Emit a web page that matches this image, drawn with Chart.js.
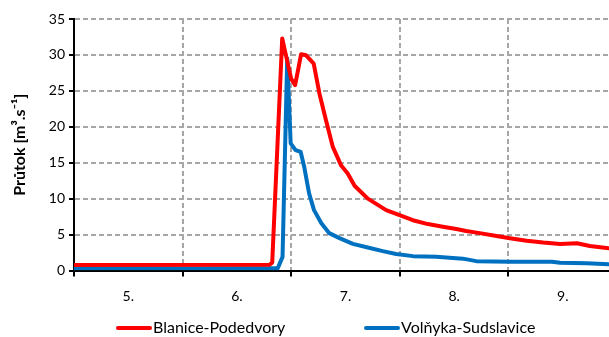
<!DOCTYPE html>
<html>
<head>
<meta charset="utf-8">
<script src="https://cdn.jsdelivr.net/npm/chart.js@4"></script>
<style>
  html, body { margin: 0; padding: 0; background: #fff; overflow: hidden; }
  canvas { display: block; }
</style>
</head>
<body>
<canvas id="graf" width="654" height="337"></canvas>
<script>
// data (den, prutok m3/s)
const blaniceDny = [5.0, 6.80, 6.825, 6.917, 6.999, 7.036, 7.091, 7.137, 7.207, 7.26, 7.32, 7.383, 7.46, 7.52, 7.583, 7.705, 7.874, 7.997, 8.12, 8.258, 8.396, 8.52, 8.61, 8.736, 8.89, 9.014, 9.167, 9.32, 9.476, 9.63, 9.75, 9.922, 10.1];
const blanicePrutok = [0.75, 0.8, 1.1, 32.3, 26.7, 25.8, 30.1, 29.95, 28.8, 24.6, 20.9, 17.2, 14.6, 13.5, 11.8, 10.0, 8.4, 7.7, 7.0, 6.46, 6.1, 5.77, 5.5, 5.2, 4.8, 4.5, 4.15, 3.9, 3.7, 3.8, 3.4, 3.1, 3.0];
const volnykaDny = [5.0, 6.875, 6.92, 6.963, 6.995, 7.04, 7.087, 7.12, 7.165, 7.21, 7.276, 7.35, 7.444, 7.568, 7.705, 7.843, 7.966, 8.12, 8.335, 8.58, 8.704, 9.014, 9.4, 9.476, 9.72, 9.922, 10.1];
const volnykaPrutok = [0.3, 0.3, 1.9, 29.5, 17.7, 16.75, 16.5, 14.4, 10.7, 8.4, 6.6, 5.2, 4.5, 3.7, 3.2, 2.7, 2.3, 2.0, 1.9, 1.65, 1.3, 1.22, 1.22, 1.08, 1.0, 0.86, 0.85];
const dnyPopisky = ['5.', '6.', '7.', '8.', '9.', '10.'];
const nazvy = ['Blanice-Podedvory', 'Volňyka-Sudslavice'];
const barvy = ['#ff0000', '#0070c0'];

Chart.defaults.font.family = 'Lato';
Chart.defaults.font.size = 14;
Chart.defaults.color = '#000';

const sedaMrizka = '#a6a6a6';

// legenda dole - vlastni, kvuli rozestupum
const legendaPlugin = {
  id: 'legendaDole',
  afterDraw(chart) {
    const c = chart.ctx;
    const pozice = [118, 366];
    c.save();
    c.font = '16px Lato';
    c.textBaseline = 'middle';
    chart.data.datasets.forEach((ds, i) => {
      const x = pozice[i];
      const y = 328;
      c.strokeStyle = ds.borderColor;
      c.lineWidth = 4;
      c.lineCap = 'round';
      c.beginPath();
      c.moveTo(x, y);
      c.lineTo(x + 32, y);
      c.stroke();
      c.fillStyle = '#000';
      c.fillText(ds.label, x + 35, y);
    });
    c.restore();
  }
};

const ctx = document.getElementById('graf').getContext('2d');

const chart = new Chart(ctx, {
  type: 'line',
  data: {
    datasets: [
      {
        label: nazvy[0],
        data: blaniceDny.map((d, i) => ({ x: d, y: blanicePrutok[i] })),
        borderColor: barvy[0],
        backgroundColor: barvy[0],
        borderWidth: 4,
        pointRadius: 0,
        tension: 0,
        borderJoinStyle: 'round'
      },
      {
        label: nazvy[1],
        data: volnykaDny.map((d, i) => ({ x: d, y: volnykaPrutok[i] })),
        borderColor: barvy[1],
        backgroundColor: barvy[1],
        borderWidth: 4,
        pointRadius: 0,
        tension: 0,
        borderJoinStyle: 'round'
      }
    ]
  },
  options: {
    responsive: false,
    animation: false,
    devicePixelRatio: 1,
    layout: { padding: { top: 19, left: 0, right: 0, bottom: 25 } },
    plugins: {
      legend: { display: false },
      tooltip: { enabled: false }
    },
    scales: {
      x: {
        type: 'linear',
        min: 5,
        max: 10.34,
        afterBuildTicks: (scale) => {
          const t = [];
          for (let v = 5; v <= scale.max; v += 0.5) t.push({ value: v });
          scale.ticks = t;
        },
        afterFit: (scale) => { scale.height = 41.5; },
        ticks: {
          autoSkip: false,
          maxRotation: 0,
          padding: 12,
          callback: (v) => Number.isInteger(v) ? '' : dnyPopisky[Math.floor(v) - 5]
        },
        grid: {
          color: (c) => Number.isInteger(c.tick.value) ? sedaMrizka : 'transparent',
          tickColor: (c) => Number.isInteger(c.tick.value) ? '#000' : 'transparent',
          tickLength: 6,
          tickBorderDash: [],
          lineWidth: 2
        },
        border: { color: '#000', width: 2, dash: [5, 3] }
      },
      y: {
        min: 0,
        max: 35,
        afterFit: (scale) => { scale.width = 74; },
        ticks: { stepSize: 5, padding: 4 },
        title: {
          display: true,
          text: 'Průtok [m³.s⁻¹]',
          font: { weight: 'bold', size: 16 },
          padding: { top: 10, bottom: 4 }
        },
        grid: {
          color: sedaMrizka,
          tickColor: '#000',
          tickLength: 5,
          tickBorderDash: [],
          lineWidth: 2
        },
        border: { color: '#000', width: 2, dash: [5, 3] }
      }
    }
  },
  plugins: [legendaPlugin]
});
</script>
</body>
</html>
